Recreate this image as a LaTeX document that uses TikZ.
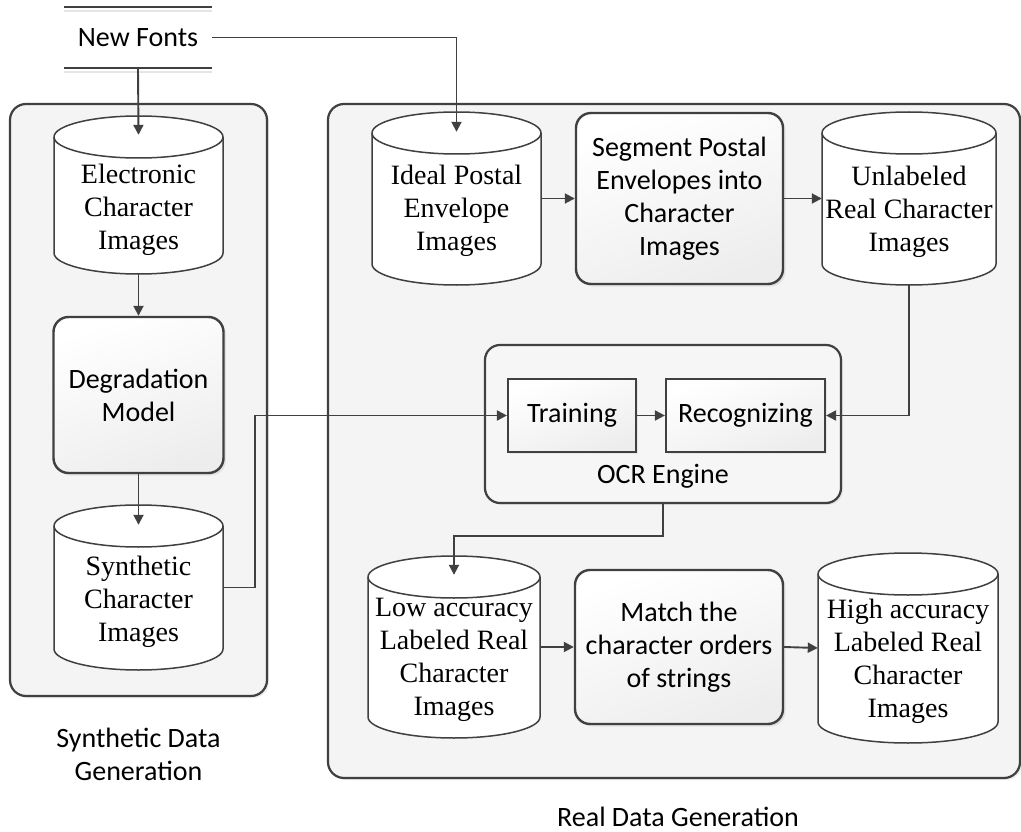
\documentclass[tikz,border=0pt]{standalone}
\usepackage{fontspec}
\setmainfont{Liberation Serif}
\newfontfamily\calibri{Carlito}
\usetikzlibrary{arrows.meta,shadows,calc}
\definecolor{ln}{HTML}{404040}
\definecolor{cont}{HTML}{F4F4F4}
\definecolor{ocrfill}{HTML}{F6F6F6}
\tikzset{
  conn/.style={draw=ln, line width=1.9pt, -{Triangle[length=10pt,width=10pt]}},
  plainline/.style={draw=ln, line width=2.4pt},
  softline/.style={draw=black!10, line width=2pt},
  container/.style={draw=ln, line width=2.2pt, rounded corners=16pt, fill=cont,
    drop shadow={opacity=0.15, shadow xshift=2pt, shadow yshift=-2pt}, inner sep=0},
  ocrbox/.style={draw=ln, line width=2.2pt, rounded corners=15pt, fill=ocrfill,
    drop shadow={opacity=0.12, shadow xshift=2pt, shadow yshift=-2pt}, inner sep=0},
  procbox/.style={draw=ln, line width=2.4pt, rounded corners=15pt,
    top color=white, bottom color=black!7, shading angle=20,
    drop shadow={opacity=0.15, shadow xshift=2.5pt, shadow yshift=-2.5pt},
    font=\calibri\fontsize{28}{33}\selectfont, align=center, inner sep=0},
  procrect/.style={draw=ln, line width=2.2pt,
    top color=white, bottom color=black!7, shading angle=20,
    drop shadow={opacity=0.12, shadow xshift=2pt, shadow yshift=-2pt},
    font=\calibri\fontsize{28}{33}\selectfont, align=center, inner sep=0},
  cylframe/.style={inner sep=0, draw=none},
  cylline/.style={draw=ln, line width=1.5pt, fill=white},
  serifxt/.style={font=\fontsize{28}{33}\selectfont, align=center, inner sep=0},
  sanstxt/.style={font=\calibri\fontsize{28}{33}\selectfont, align=center, inner sep=0},
}
% name x1 y1 x2 y2 textcentre text
\newcommand\mycyl[7]{%
  \pgfmathsetmacro\rx{(#4-#2)/2}%
  \node[cylframe, minimum width={(#4-#2)*1pt}, minimum height={(#5-#3)*1pt}] (#1) at ({(#2+#4)/2},{(#3+#5)/2}) {};
  \filldraw[cylline] (#2,#3+21) -- (#2,#5-21) arc[start angle=180,end angle=360,x radius=\rx pt,y radius=21pt] -- (#4,#3+21) arc[start angle=0,end angle=180,x radius=\rx pt,y radius=21pt] -- cycle;
  \draw[cylline, fill=none] (#2,#3+21) arc[start angle=180,end angle=360,x radius=\rx pt,y radius=21pt];
  \node[serifxt] (#1-t) at ({(#2+#4)/2},#6) {#7};
}
\begin{document}
\begin{tikzpicture}[x=1pt,y=-1pt]
\useasboundingbox (0,0) rectangle (1021,832);
\fill[white] (0,0) rectangle (1021,832);

% containers
\node[container, minimum width=257pt, minimum height=592pt] (leftc) at (138.5,400) {};
\node[container, minimum width=692pt, minimum height=674pt] (rightc) at (674,441) {};

% New Fonts
\node[sanstxt, minimum width=148pt, minimum height=61pt] (nf) at (138,37.5) {New Fonts};
\draw[softline] ($(nf.north west)+(0,4)$) -- ($(nf.north east)+(0,4)$);
\draw[softline] ($(nf.south west)+(0,4)$) -- ($(nf.south east)+(0,4)$);
\draw[plainline] (nf.north west) -- (nf.north east);
\draw[plainline] (nf.south west) -- (nf.south east);

% left column
\mycyl{elec}{54}{116}{223}{274}{210}{Electronic\\Character\\Images}
\node[procbox, minimum width=170pt, minimum height=156pt] (degr) at (138.5,395) {Degradation\\Model};
\mycyl{synth}{54}{505}{223}{670}{602}{Synthetic\\Character\\Images}
\node[sanstxt] (synlab) at (138.5,754) {Synthetic Data\\Generation};

% right top row
\mycyl{ideal}{372}{112}{541}{285}{211}{Ideal Postal\\Envelope\\Images}
\node[procbox, minimum width=207pt, minimum height=171pt] (seg) at (679.5,198.5) {Segment Postal\\Envelopes into\\Character\\Images};
\mycyl{unl}{822}{112}{996}{285}{212}{Unlabeled\\Real Character\\Images}

% OCR engine
\node[ocrbox, minimum width=356pt, minimum height=158pt] (ocr) at (663,424) {};
\node[procrect, minimum width=128pt, minimum height=73pt] (train) at (572,415.5) {Training};
\node[procrect, minimum width=159pt, minimum height=73pt] (recog) at (745.5,415.5) {Recognizing};
\node[sanstxt] (ocrlab) at (663,476) {OCR Engine};

% bottom row
\mycyl{low}{368}{556}{540}{738}{660}{Low accuracy\\Labeled Real\\Character\\Images}
\node[procbox, minimum width=208pt, minimum height=154pt] (match) at (679,647) {Match the\\character orders\\of strings};
\mycyl{high}{818}{553}{998}{743}{661}{High accuracy\\Labeled Real\\Character\\Images}
\node[sanstxt] (reallab) at (678,817) {Real Data Generation};

% connectors
\draw[conn] (nf.south) -- ($(elec.north)+(0,19)$);
\draw[conn] (nf.east) -| ($(ideal.north)+(0,20)$);
\draw[conn] (elec.south) -- (degr.north);
\draw[conn] (degr.south) -- ($(synth.north)+(0,20)$);
\draw[conn] (synth.east) -- ++(32,0) |- (train.west);
\draw[conn] (ideal.east) -- (seg.west);
\draw[conn] (seg.east) -- (unl.west);
\draw[conn] (unl.south) |- (recog.east);
\draw[conn] (train.east) -- (recog.west);
\draw[conn] (ocr.south) -- ++(0,32) -| ($(low.north)+(0,19)$);
\draw[conn] (low.east) -- (match.west);
\draw[conn] (match.east) -- (high.west);
\end{tikzpicture}
\end{document}
